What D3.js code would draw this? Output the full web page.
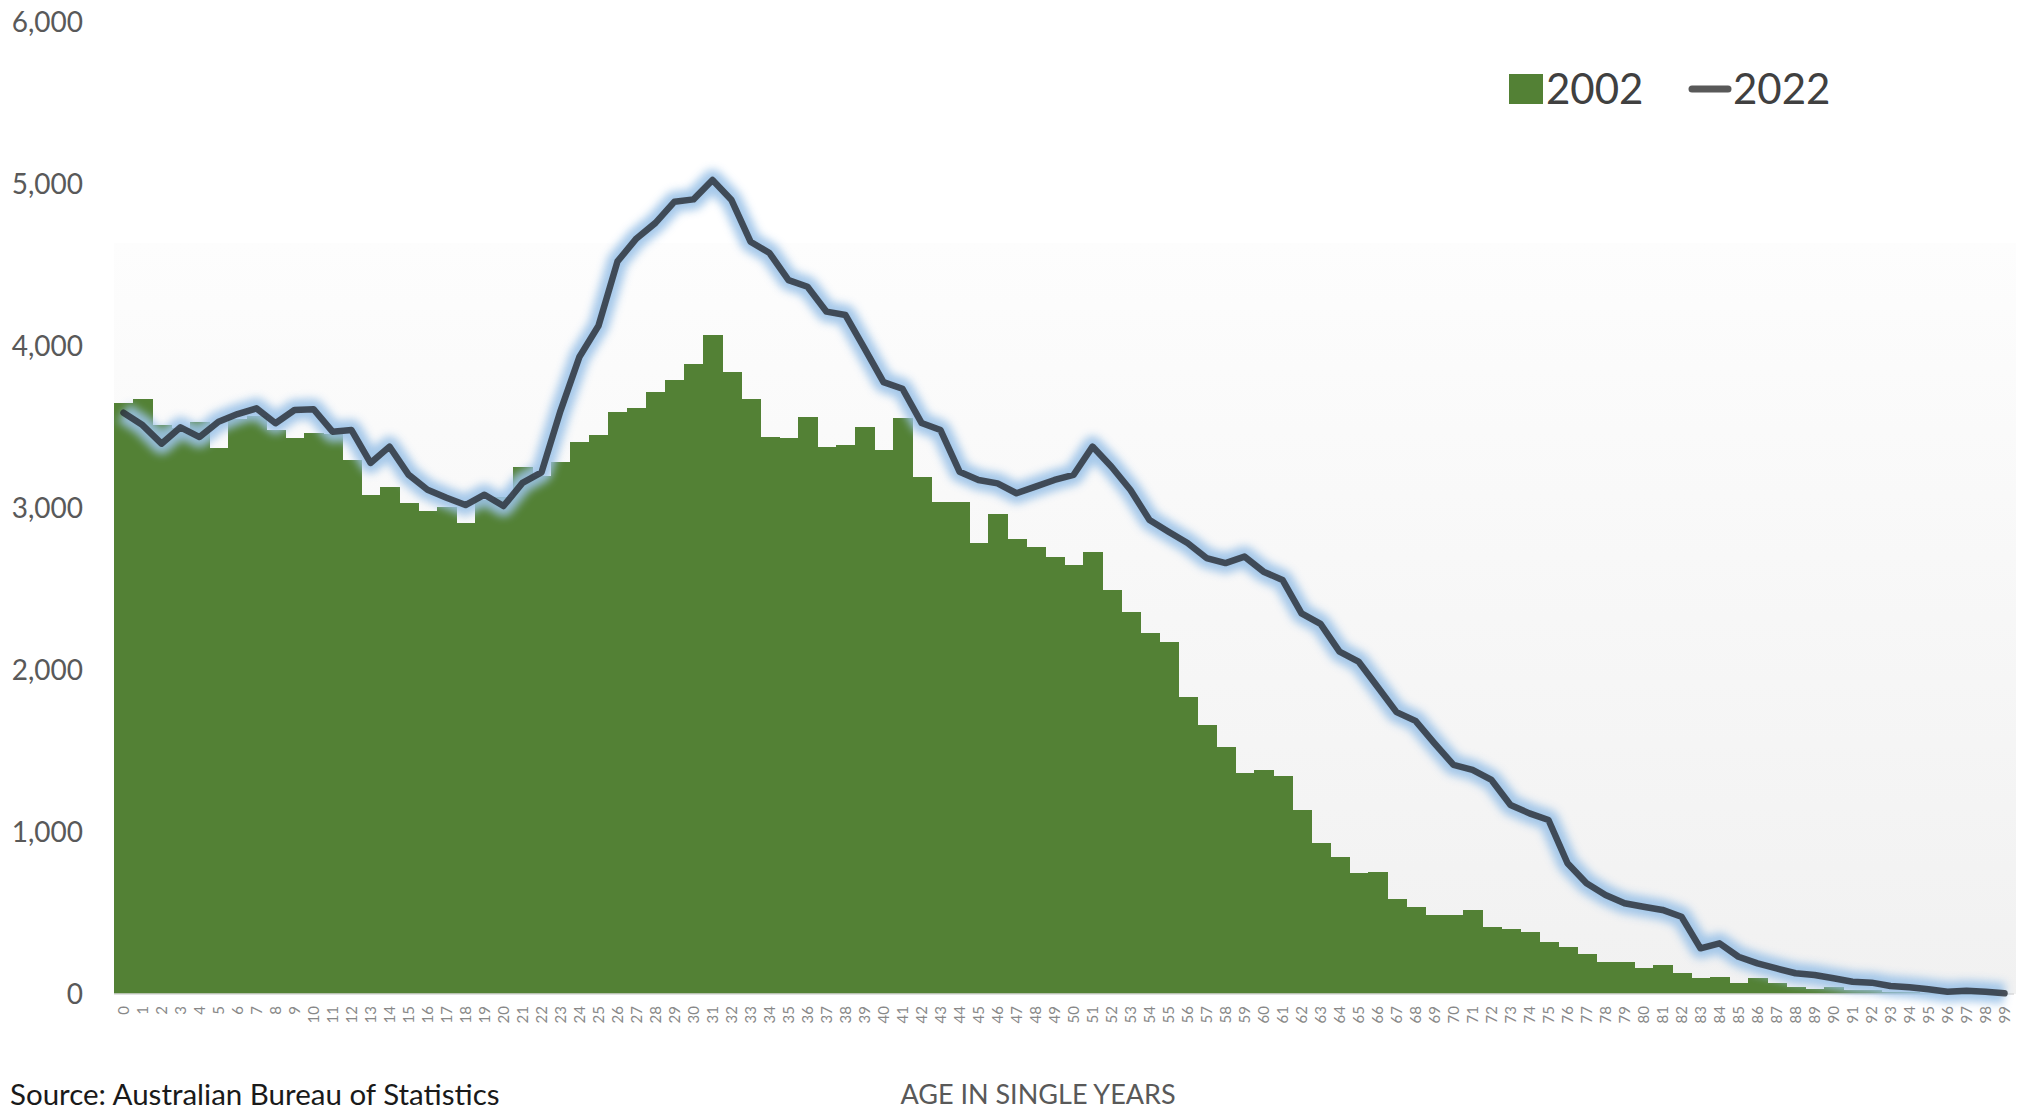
<!doctype html>
<html>
<head>
  <meta charset="utf-8" />
  <script src="https://cdn.jsdelivr.net/npm/d3@7"></script>
  <style>
  body{
    margin: 0;
    background: #ffffff;
    font-family: "Lato", "Open Sans", sans-serif;
  }
  .ylab{
    fill: #595959;
    font-size: 28px;
  }
  .xaxis text{
    fill: #888888;
    font-size: 15px;
  }
  .legend text{
    fill: #404040;
    font-size: 42px;
  }
  </style>
</head>
<body>
  <div id="chart"></div>

  <script>
  // ages 0..99 (single years)
  var ages = [0,1,2,3,4,5,6,7,8,9,10,11,12,13,14,15,16,17,18,19,
    20,21,22,23,24,25,26,27,28,29,30,31,32,33,34,35,36,37,38,39,
    40,41,42,43,44,45,46,47,48,49,50,51,52,53,54,55,56,57,58,59,
    60,61,62,63,64,65,66,67,68,69,70,71,72,73,74,75,76,77,78,79,
    80,81,82,83,84,85,86,87,88,89,90,91,92,93,94,95,96,97,98,99];

  // 2002 population by age (bars)
  var pop2002 = [3646,3675,3512,3495,3530,3368,3550,3565,3481,3430,
    3465,3455,3296,3080,3130,3030,2983,3005,2905,3050,
    3070,3255,3200,3286,3410,3451,3590,3615,3718,3790,
    3888,4065,3842,3671,3440,3430,3564,3379,3389,3502,
    3358,3553,3189,3040,3040,2786,2963,2807,2761,2695,
    2648,2730,2494,2360,2226,2175,1835,1660,1523,1366,
    1383,1346,1136,930,848,745,755,584,535,488,
    488,519,416,399,381,323,292,247,200,200,
    158,179,132,97,103,70,97,66,41,29,
    41,24,24,15,10,7,5,4,3,2];

  // 2022 population by age (line)
  var pop2022 = [3588,3512,3397,3498,3438,3533,3580,3615,3523,3605,
    3610,3471,3481,3278,3379,3206,3113,3063,3018,3082,
    3012,3155,3220,3600,3934,4125,4522,4664,4760,4891,
    4905,5025,4901,4644,4574,4407,4366,4212,4191,3985,
    3777,3736,3525,3481,3224,3173,3152,3091,3132,3173,
    3204,3379,3255,3111,2926,2854,2784,2691,2660,2700,
    2607,2556,2350,2285,2113,2052,1897,1740,1686,1547,
    1414,1383,1321,1167,1115,1074,807,683,611,560,
    539,519,477,282,313,230,189,158,128,117,
    97,76,70,49,41,29,14,20,14,4];

  var yTicks = [0,1000,2000,3000,4000,5000,6000];
  var seriesNames = ['2002','2022'];

  var width = 2024, height = 1110;
  var plotLeft = 114, plotRight = 2014, plotBottom = 994, plotTop = 22;
  var panelTop = 243;
  var barColor = '#538135';

  var svg = d3.select('#chart')
    .append('svg')
    .attr('width', width)
    .attr('height', height);

  var defs = svg.append('defs');

  // faint grey gradient behind the lower part of the plot
  var grad = defs.append('linearGradient')
    .attr('id', 'panelGrad')
    .attr('x1', 0).attr('y1', 0).attr('x2', 0).attr('y2', 1);
  grad.append('stop').attr('offset', '0%').attr('stop-color', '#fdfdfd');
  grad.append('stop').attr('offset', '100%').attr('stop-color', '#f1f1f1');

  var glow = defs.append('filter')
    .attr('id', 'glow')
    .attr('x', '-5%').attr('y', '-5%').attr('width', '110%').attr('height', '110%');
  glow.append('feGaussianBlur').attr('stdDeviation', 4);

  var x = d3.scaleBand()
    .domain(ages)
    .range([plotLeft, plotRight])
    .padding(0);

  var y = d3.scaleLinear()
    .domain([0, 6000])
    .range([plotBottom, plotTop]);

  svg.append('rect')
    .attr('x', plotLeft)
    .attr('y', panelTop)
    .attr('width', plotRight - plotLeft + 2)
    .attr('height', plotBottom - panelTop)
    .attr('fill', 'url(#panelGrad)');

  // bars 2002
  svg.append('g')
    .selectAll('rect')
    .data(ages)
    .enter().append('rect')
    .attr('x', function(d){ return x(d); })
    .attr('width', x.bandwidth() + 0.5)
    .attr('y', function(d, i){ return y(pop2002[i]); })
    .attr('height', function(d, i){ return y(0) - y(pop2002[i]); })
    .attr('fill', barColor)
    .attr('shape-rendering', 'crispEdges');

  // baseline
  svg.append('line')
    .attr('x1', plotLeft).attr('x2', plotRight)
    .attr('y1', y(0)).attr('y2', y(0))
    .attr('stroke', '#d9d9d9')
    .attr('stroke-width', 1.5);

  // line 2022 with a soft blue glow
  var line = d3.line()
    .x(function(d, i){ return x(ages[i]) + x.bandwidth() / 2; })
    .y(function(d){ return y(d); });

  svg.append('path')
    .datum(pop2022)
    .attr('d', line)
    .attr('fill', 'none')
    .attr('stroke', '#9cc3e8')
    .attr('stroke-width', 21)
    .attr('stroke-linejoin', 'round')
    .attr('opacity', 0.9)
    .attr('filter', 'url(#glow)');

  svg.append('path')
    .datum(pop2022)
    .attr('d', line)
    .attr('fill', 'none')
    .attr('stroke', '#262b32')
    .attr('stroke-opacity', 0.8)
    .attr('stroke-width', 6.5)
    .attr('stroke-linejoin', 'round')
    .attr('stroke-linecap', 'round');

  // y labels
  svg.append('g')
    .selectAll('text')
    .data(yTicks)
    .enter().append('text')
    .attr('class', 'ylab')
    .attr('x', 83)
    .attr('y', function(d){ return y(d); })
    .attr('dy', '0.35em')
    .attr('text-anchor', 'end')
    .text(d3.format(','));

  // x axis, rotated age labels
  var xAxis = svg.append('g')
    .attr('class', 'xaxis')
    .attr('transform', 'translate(0,' + plotBottom + ')')
    .call(d3.axisBottom(x).tickSize(0).tickPadding(0));
  xAxis.select('.domain').remove();
  xAxis.selectAll('text')
    .attr('transform', 'rotate(-90)')
    .attr('text-anchor', 'end')
    .attr('x', -12)
    .attr('y', 0)
    .attr('dy', '0.35em')
    .style('font-family', '"Lato", sans-serif');

  svg.append('text')
    .attr('x', 1038)
    .attr('y', 1104)
    .attr('text-anchor', 'middle')
    .attr('fill', '#595959')
    .style('font-size', '27px')
    .text('AGE IN SINGLE YEARS');

  svg.append('text')
    .attr('x', 10)
    .attr('y', 1105)
    .attr('fill', '#1a1a1a')
    .style('font-size', '29.5px')
    .text('Source: Australian Bureau of Statistics');

  // legend
  var legend = svg.append('g').attr('class', 'legend');
  legend.append('rect')
    .attr('x', 1509).attr('y', 74)
    .attr('width', 34).attr('height', 30)
    .attr('fill', barColor);
  legend.append('text')
    .attr('x', 1546).attr('y', 89)
    .attr('dy', '0.36em')
    .text(seriesNames[0]);
  legend.append('line')
    .attr('x1', 1692).attr('x2', 1728)
    .attr('y1', 89).attr('y2', 89)
    .attr('stroke', '#595959')
    .attr('stroke-width', 7)
    .attr('stroke-linecap', 'round');
  legend.append('text')
    .attr('x', 1733).attr('y', 89)
    .attr('dy', '0.36em')
    .text(seriesNames[1]);
  </script>
</body>
</html>
